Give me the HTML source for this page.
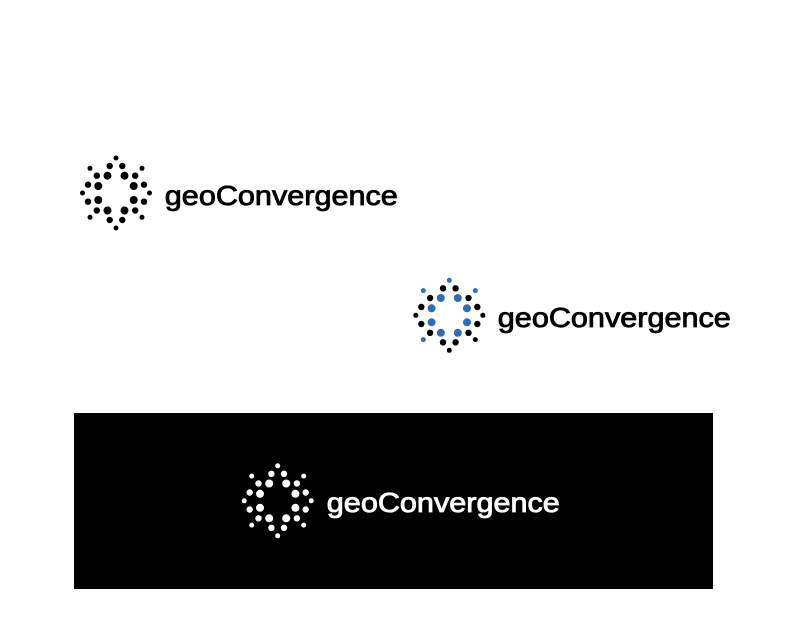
<!DOCTYPE html>
<html>
<head>
<meta charset="utf-8">
<style>
html,body{margin:0;padding:0;background:#fff;width:800px;height:640px;overflow:hidden}
svg{display:block}
text{font-family:"Liberation Sans",sans-serif;font-size:27.5px;stroke-width:.85px}
</style>
</head>
<body>
<svg width="800" height="640" viewBox="0 0 800 640" xmlns="http://www.w3.org/2000/svg">
<defs>
<g id="big">
<circle cx="-8.5" cy="-17.3" r="4"/><circle cx="8.5" cy="-17.3" r="4"/>
<circle cx="-17.7" cy="-7" r="4"/><circle cx="17.7" cy="-7" r="4"/>
<circle cx="-17.7" cy="7" r="4"/><circle cx="17.7" cy="7" r="4"/>
<circle cx="-8.5" cy="17.5" r="4"/><circle cx="8.5" cy="17.5" r="4"/>
</g>
<g id="mid">
<circle cx="-6.3" cy="-27" r="3.2"/><circle cx="6.3" cy="-27" r="3.2"/>
<circle cx="-19.2" cy="-17.3" r="3.2"/><circle cx="19.2" cy="-17.3" r="3.2"/>
<circle cx="-28" cy="-8.3" r="3.2"/><circle cx="28" cy="-8.3" r="3.2"/>
<circle cx="-33.5" cy="0" r="2.5"/><circle cx="33.5" cy="0" r="2.5"/>
<circle cx="-28" cy="8.7" r="3.2"/><circle cx="28" cy="8.7" r="3.2"/>
<circle cx="-19.2" cy="17.5" r="3.2"/><circle cx="19.2" cy="17.5" r="3.2"/>
<circle cx="-6.3" cy="27" r="3.2"/><circle cx="6.3" cy="27" r="3.2"/>
<circle cx="26" cy="24.3" r="2.5"/><circle cx="0" cy="35" r="2.5"/>
</g>
<g id="tips">
<circle cx="0" cy="-35" r="2.5"/>
<circle cx="-26" cy="-24.7" r="2.5"/><circle cx="26" cy="-24.7" r="2.5"/>
<circle cx="-26" cy="24.3" r="2.5"/>
</g>
</defs>

<rect x="74" y="413" width="639" height="176" fill="#000"/>

<g transform="translate(116 193)" fill="#000">
<use href="#big"/><use href="#mid"/><use href="#tips"/>
</g>
<text x="164.800" y="205" fill="#000" stroke="#000" textLength="233" lengthAdjust="spacingAndGlyphs">geoConvergence</text>

<g transform="translate(449.300 315.300)">
<use href="#big" fill="#2f6db5"/><use href="#mid" fill="#000"/><use href="#tips" fill="#2f6db5"/>
</g>
<text x="497.800" y="327" fill="#000" stroke="#000" textLength="233" lengthAdjust="spacingAndGlyphs">geoConvergence</text>

<g transform="translate(277.700 500.800)" fill="#fff">
<use href="#big"/><use href="#mid"/><use href="#tips"/>
</g>
<text x="326.800" y="512" fill="#fff" stroke="#fff" textLength="233" lengthAdjust="spacingAndGlyphs">geoConvergence</text>
</svg>
</body>
</html>
